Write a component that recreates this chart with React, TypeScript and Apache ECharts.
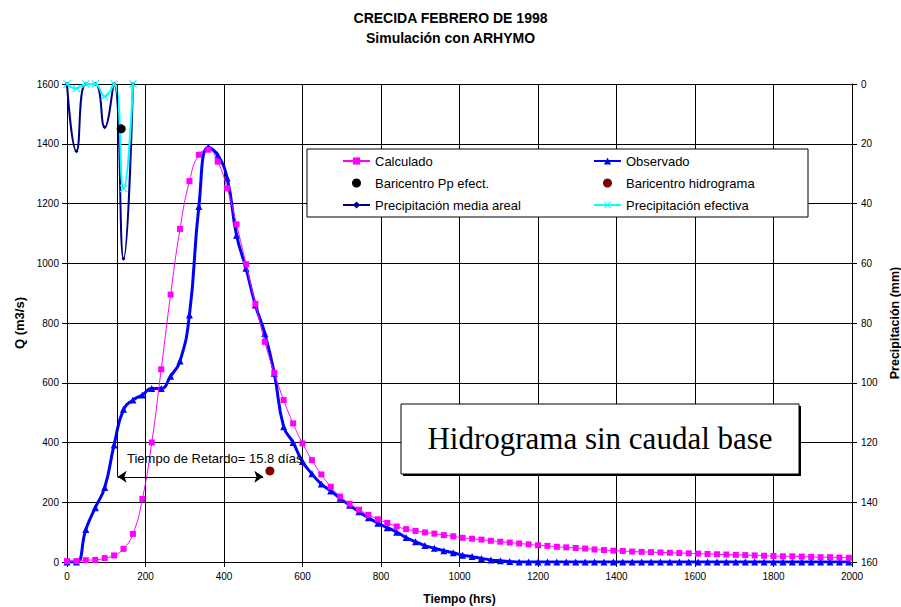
import React, { useEffect, useRef } from "react";
import * as echarts from "echarts";

// ---------- DATA ----------
const hours = [
  0, 24, 48, 72, 96, 120, 144, 168, 192, 216, 240, 264, 288, 312, 336, 360, 384, 408, 432, 456,
  480, 504, 528, 552, 576, 600, 624, 648, 672, 696, 720, 744, 768, 792, 816, 840, 864, 888, 912, 936,
  960, 984, 1008, 1032, 1056, 1080, 1104, 1128, 1152, 1176, 1200, 1224, 1248, 1272, 1296, 1320, 1344, 1368, 1392, 1416,
  1440, 1464, 1488, 1512, 1536, 1560, 1584, 1608, 1632, 1656, 1680, 1704, 1728, 1752, 1776, 1800, 1824, 1848, 1872, 1896,
  1920, 1944, 1968, 1992,
];

const observado = [
  0, 0, 109, 182, 249, 392, 511, 542, 559, 581, 581, 622, 673, 827, 1190, 1388, 1362, 1285, 1094, 983,
  860, 765, 632, 453, 400, 336, 295, 261, 238, 213, 190, 168, 148, 130, 115, 100, 82, 68, 55, 46,
  38, 31, 23, 18, 12, 7, 4, 2, 0, 0, 0, 0, 0, 0, 0, 0, 0, 0, 0, 0,
  0, 0, 0, 0, 0, 0, 0, 0, 0, 0, 0, 0, 0, 0, 0, 0, 0, 0, 0, 0,
  0, 0, 0, 0,
];

const calculado = [
  3, 3, 6, 7, 13, 22, 44, 94, 211, 400, 645, 895, 1115, 1275, 1363, 1380, 1340, 1251, 1130, 997,
  864, 737, 633, 542, 464, 397, 341, 293, 252, 219, 195, 175, 158, 143, 131, 119, 110, 104, 99, 95,
  90, 86, 81, 78, 75, 71, 68, 65, 62, 59, 56, 54, 51, 49, 47, 45, 42, 40, 38, 37,
  35, 34, 33, 32, 31, 30, 29, 28, 27, 26, 25, 24, 23, 22, 21, 20, 19, 19, 18, 17,
  16, 16, 15, 14,
];

const precipHours = [0, 24, 48, 72, 96, 120, 144, 168];
const precipMedia = [0, 22.5, 0, 0, 14.5, 0, 58.5, 0];
const precipEfectiva = [0, 1.5, 0, 0, 4.2, 0, 35, 0];

const baricentroPp = [138, 1450];
const baricentroHidro = [517, 305];

const retardoInicio = 129;
const retardoFin = 500;
const retardoQ = 285;
const retardoTexto = "Tiempo de Retardo= 15.8 días";
const recuadroTexto = "Hidrograma sin caudal base";

const qTicks = { min: 0, max: 1600, interval: 200 };
const pTicks = { min: 0, max: 160, interval: 20 };
const tTicks = { min: 0, max: 2000, interval: 200 };

const FONT = "Liberation Sans, Arial, sans-serif";
const SERIF = "Liberation Serif, Times New Roman, serif";

const crossPath =
  "path://M0,1L1,0L5,4L9,0L10,1L6,5L10,9L9,10L5,6L1,10L0,9L4,5Z";

const plain = (v: number) => String(v);

export default function App() {
  const ref = useRef<HTMLDivElement>(null);

  useEffect(() => {
    if (!ref.current) return;
    const chart = echarts.init(ref.current, null, { renderer: "svg" });

    const obsData = hours.map((h, i) => [h, observado[i]]);
    const calData = hours.map((h, i) => [h, calculado[i]]);
    const mediaData = precipHours.map((h, i) => [h, precipMedia[i]]);
    const efecData = precipHours.map((h, i) => [h, precipEfectiva[i]]);

    const axisLabel = { fontFamily: FONT, fontSize: 10, color: "#000", formatter: plain };
    const axisName = { fontFamily: FONT, fontSize: 13, fontWeight: "bold" as const, color: "#000" };

    chart.setOption({
      animation: false,
      backgroundColor: "#fff",
      title: {
        text: "CRECIDA FEBRERO DE 1998\nSimulación con ARHYMO",
        left: "center",
        top: 3,
        textStyle: { fontFamily: FONT, fontSize: 14, fontWeight: "bold", color: "#000", lineHeight: 20 },
      },
      grid: { left: 67, right: 49, top: 84, bottom: 45, containLabel: false, outerBoundsMode: "none" },
      legend: [
        {
          data: ["Calculado", "Baricentro Pp efect.", "Precipitación media areal"],
          orient: "vertical",
          left: 342,
          top: 154,
          padding: 0,
          itemGap: 8,
          itemWidth: 27,
          itemHeight: 9,
          selectedMode: false,
          textStyle: { fontFamily: FONT, fontSize: 13, color: "#000", lineHeight: 14 },
        },
        {
          data: ["Observado", "Baricentro hidrograma", "Precipitación efectiva"],
          orient: "vertical",
          left: 593,
          top: 154,
          padding: 0,
          itemGap: 8,
          itemWidth: 27,
          itemHeight: 9,
          selectedMode: false,
          textStyle: { fontFamily: FONT, fontSize: 13, color: "#000", lineHeight: 14 },
        },
      ],
      xAxis: {
        type: "value",
        ...tTicks,
        name: "Tiempo (hrs)",
        nameLocation: "middle",
        nameGap: 31,
        nameTextStyle: { ...axisName, fontSize: 12 },
        axisLine: { show: true, onZero: false, lineStyle: { color: "#000", width: 1 } },
        axisTick: { show: true, inside: false, length: 5, lineStyle: { color: "#000" } },
        axisLabel: { ...axisLabel, margin: 9 },
        splitLine: { show: true, lineStyle: { color: "#000", width: 1 } },
      },
      yAxis: [
        {
          type: "value",
          ...qTicks,
          name: "Q (m3/s)",
          nameLocation: "middle",
          nameGap: 38,
          nameRotate: 90,
          nameTextStyle: axisName,
          axisLine: { show: true, lineStyle: { color: "#000", width: 1 } },
          axisTick: { show: true, inside: false, length: 5, lineStyle: { color: "#000" } },
          axisLabel: { ...axisLabel, margin: 8 },
          splitLine: { show: true, lineStyle: { color: "#000", width: 1 } },
        },
        {
          type: "value",
          position: "right",
          inverse: true,
          ...pTicks,
          name: "Precipitación (mm)",
          nameLocation: "middle",
          nameGap: 32,
          nameRotate: 90,
          nameTextStyle: { ...axisName, fontSize: 12.5 },
          axisLine: { show: true, lineStyle: { color: "#000", width: 1 } },
          axisTick: { show: true, inside: false, length: 5, lineStyle: { color: "#000" } },
          axisLabel: { ...axisLabel, margin: 9 },
          splitLine: { show: false },
        },
      ],
      graphic: [
        {
          type: "rect",
          z: 3,
          silent: true,
          shape: { x: 307, y: 149, width: 501, height: 68 },
          style: { fill: "#fff", stroke: "#000", lineWidth: 1 },
        },
        {
          type: "rect",
          z: 3,
          silent: true,
          shape: { x: 403, y: 406, width: 398, height: 70 },
          style: { fill: "#000" },
        },
        {
          type: "rect",
          z: 4,
          silent: true,
          shape: { x: 401, y: 404, width: 398, height: 70 },
          style: { fill: "#fff", stroke: "#000", lineWidth: 1 },
        },
        {
          type: "text",
          z: 5,
          silent: true,
          x: 600,
          y: 438,
          style: {
            text: recuadroTexto,
            fontFamily: SERIF,
            fontSize: 31,
            fill: "#000",
            align: "center",
            verticalAlign: "middle",
          },
        },
        {
          type: "text",
          z: 5,
          silent: true,
          x: 127,
          y: 458,
          style: {
            text: retardoTexto,
            fontFamily: FONT,
            fontSize: 13,
            fill: "#000",
            align: "left",
            verticalAlign: "middle",
          },
        },
      ],
      series: [
        {
          name: "Observado",
          type: "line",
          yAxisIndex: 0,
          data: obsData,
          smooth: true,
          symbol: "triangle",
          symbolSize: 7,
          showAllSymbol: true,
          lineStyle: { color: "#0000FF", width: 3 },
          itemStyle: { color: "#0000FF" },
          z: 2,
        },
        {
          name: "Calculado",
          type: "line",
          yAxisIndex: 0,
          data: calData,
          smooth: true,
          symbol: "rect",
          symbolSize: 6,
          showAllSymbol: true,
          lineStyle: { color: "#FF00FF", width: 1 },
          itemStyle: { color: "#FF00FF" },
          z: 3,
        },
        {
          name: "Precipitación media areal",
          type: "line",
          yAxisIndex: 1,
          data: mediaData,
          smooth: true,
          symbol: "diamond",
          symbolSize: 4,
          lineStyle: { color: "#000080", width: 2 },
          itemStyle: { color: "#000080" },
          z: 2,
        },
        {
          name: "Precipitación efectiva",
          type: "line",
          yAxisIndex: 1,
          data: efecData,
          smooth: true,
          symbol: crossPath,
          symbolSize: 8,
          lineStyle: { color: "#00FFFF", width: 2 },
          itemStyle: { color: "#00FFFF" },
          z: 3,
        },
        {
          name: "Baricentro Pp efect.",
          type: "scatter",
          yAxisIndex: 0,
          data: [baricentroPp],
          symbol: "circle",
          symbolSize: 9,
          itemStyle: { color: "#000000", opacity: 1 },
          z: 4,
        },
        {
          name: "Baricentro hidrograma",
          type: "scatter",
          yAxisIndex: 0,
          data: [baricentroHidro],
          symbol: "circle",
          symbolSize: 9,
          itemStyle: { color: "#800000", opacity: 1 },
          z: 4,
          markLine: {
            silent: true,
            animation: false,
            symbolSize: 9,
            label: { show: false },
            lineStyle: { color: "#000", width: 1, type: "solid" },
            emphasis: { disabled: true },
            data: [
              [
                { coord: [retardoInicio, retardoQ], symbol: "arrow" },
                { coord: [retardoFin, retardoQ], symbol: "arrow" },
              ],
              [
                { coord: [retardoInicio - 1, qTicks.max], symbol: "none" },
                { coord: [retardoInicio - 1, retardoQ], symbol: "none" },
              ],
            ],
          },
        },
      ],
    });

    return () => chart.dispose();
  }, []);

  return (
    <div
      ref={ref}
      style={{ position: "absolute", left: 0, top: 0, width: 901, height: 607, background: "#fff" }}
    />
  );
}
